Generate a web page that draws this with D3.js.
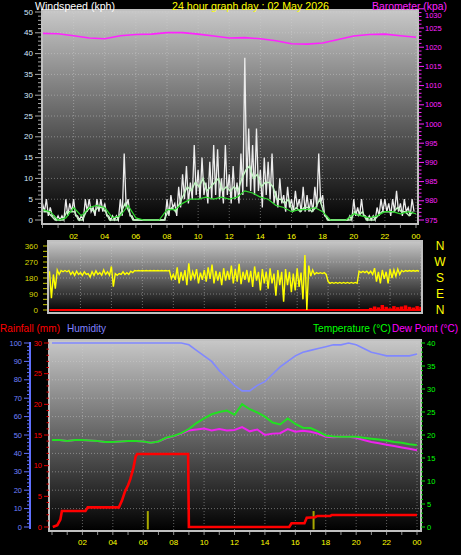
<!DOCTYPE html>
<html><head><meta charset="utf-8">
<script src="https://cdn.jsdelivr.net/npm/d3@7"></script>
<style>body{margin:0;background:#000;}svg{display:block;}</style>
</head><body>
<svg id="c" width="461" height="555"></svg>
<script>
// ---------- data ----------
const xTickHours = [2,4,6,8,10,12,14,16,18,20,22,24];
const xTickLabels = ["02","04","06","08","10","12","14","16","18","20","22","00"];
const windTicks = [0,5,10,15,20,25,30,35,40,45,50];
const baroTicks = [975,980,985,990,995,1000,1005,1010,1015,1020,1025,1030];
const dirTicks = [0,90,180,270,360];
const compassLabels = ["N","W","S","E","N"];
const compassDeg = [360,270,180,90,0];
const humTicks = [0,10,20,30,40,50,60,70,80,90,100];
const rainTicks = [0,5,10,15,20,25,30];
const tempTicks = [0,5,10,15,20,25,30,35,40];

// wind, 15-minute intervals (kph): highest and lowest gust read in each
const gustHigh = [4,5,3,1, 1,1,5,4, 5,1,1,5, 5,3,5,5, 4,1,1,1, 5,16,5,1, 0,0,0,0, 0,0,0,0,
  5,6,4,8, 11,13,9,18, 12,15,9,14, 18,17,10,18, 11,13,9,16, 39,22,18,22, 12,15,14,16, 7,10,6,8,
  5,7,5,8, 6,5,8,16, 6,1,0,0, 0,0,0,1, 5,3,5,1, 1,1,3,5, 5,4,5,7, 4,5,3,5];
const gustLow = [2,1,1,0, 0,0,1,2, 1,0,0,2, 2,1,2,2, 1,0,0,0, 1,3,1,0, 0,0,0,0, 0,0,0,0,
  1,3,1,3, 5,4,5,6, 5,6,4,5, 6,5,4,6, 4,5,4,6, 8,7,6,7, 3,6,5,4, 3,4,2,3,
  2,3,2,2, 2,2,3,4, 1,0,0,0, 0,0,0,0, 1,1,1,0, 0,0,1,2, 2,1,2,2, 1,2,1,2];
const windAvg = [2,2,1,0, 0,0,2,2, 2,0,0,2, 3,2,3,3, 2,0,0,0, 2,4,2,0, 0,0,0,0, 0,0,0,0,
  2,3,2,4, 6,8,7,9, 8,10,7,8, 9,10,7,8, 7,8,7,10, 12,13,10,11, 8,9,9,8, 5,5,4,5,
  2,3,2,3, 3,2,3,5, 2,0,0,0, 0,0,0,0, 2,1,2,0, 0,0,1,2, 2,2,2,3, 2,2,1,2];
// half-hourly mean wind (kph)
const windMean = [2.5,2,0,0.5,3,1,3,3.5,3,0.5,1,3.5,0.5,0,0,0,2.5,2.5,4,5,5,5.5,5,5.5,5,5.5,7,6.5,
  5.5,5,3.5,3,2,2.5,2.5,3,2,0,0,0,1.5,1,0.5,1,2,2,1.5,2,1.5];
// hourly barometer (hPa)
const baro = [1023.6,1023.5,1023.0,1022.4,1022.2,1023.0,1023.3,1023.4,1023.8,1023.8,1023.4,1022.9,
  1022.4,1022.5,1022.2,1021.7,1020.9,1020.8,1021.1,1022.0,1022.9,1023.3,1023.4,1023.0,1022.6];
// wind direction, 15-minute (degrees): highest and lowest read in each
const dirHigh = [218,200,225,222, 222,222,215,218, 210,215,205,215, 220,210,225,215, 245,205,205,215,
  210,218,222,222, 222,222,222,222, 222,222,222,222, 200,240,215,225, 262,215,230,210,
  225,240,255,220, 215,235,220,250, 230,260,215,225, 220,245,215,230, 215,235,205,225,
  215,230,215,205, 235,210,309,250, 225,210,210,210, 160,155,155,155, 155,155,155,155,
  218,218,218,218, 235,215,225,215, 230,225,230,222, 222,222,222,222];
const dirLow = [67,120,200,215, 215,200,195,200, 195,200,185,195, 200,195,200,195, 131,195,200,200,
  200,210,220,220, 220,220,220,220, 220,220,220,175, 170,150,165,140, 165,180,150,170,
  160,175,150,165, 140,165,170,150, 160,145,170,155, 130,165,110,150, 120,150,80,140,
  47,140,100,110, 130,60,0,190, 200,205,205,200, 150,150,150,150, 150,150,150,150,
  210,210,205,200, 160,150,175,150, 180,190,200,215, 218,218,218,218];
const redTraceStart = 20.75;
const redTrace = [12,20,15,28,18,10,22,16,20,26,18,14,22,18];
// half-hourly humidity (%), temperature and dew point (°C)
const humidity = [100,100,100,100,100,100,100,100,100,100,100,100,100,100,100,100,100,100,
  99,96,93,90,85,81,77,74,74,77,79,83,87,90,93,95,96,97,98,99,99,100,99,97,95,94,93,93,93,93,94];
const temperature = [18.9,18.9,18.7,18.9,18.9,18.8,18.7,18.5,18.5,18.6,18.7,18.7,18.6,18.3,18.6,19.4,
  19.8,20.4,21.3,22.6,23.6,24.5,25.0,25.3,24.4,26.7,25.6,24.9,24.0,22.7,22.3,23.6,22.4,21.6,21.5,20.8,
  19.9,19.7,19.6,19.6,19.6,19.4,19.2,19.0,18.8,18.5,18.3,18.0,17.8];
const dewPoint = [18.9,18.9,18.7,18.9,18.9,18.8,18.7,18.5,18.5,18.6,18.7,18.7,18.6,18.3,18.6,19.3,
  19.7,20.3,21.0,21.2,21.4,21.0,21.3,21.0,21.1,21.7,20.8,21.2,20.0,20.3,20.4,21.3,20.7,20.9,20.7,20.3,
  19.6,19.5,19.6,19.6,19.4,18.9,18.5,18.2,17.9,17.6,17.3,17.0,16.7];
// rainfall total (mm) at read times (hours)
const rainHours = [0.05,0.35,0.55,0.65,2.2,2.35,4.4,4.6,4.8,5.0,5.15,5.35,5.5,5.6,8.95,9.0,15.6,15.75,16.6,16.75,17.3,17.45,18.3,18.4,24];
const rainMm    = [0,0.3,1.2,2.6,2.6,3.2,3.2,4.3,5.8,6.8,7.8,9.6,11.5,11.9,11.9,0,0,0.6,0.6,1.5,1.6,1.8,1.8,1.96,1.96];
const rainRateHours = [6.3,17.2];
const rainRateMm = [2.6,2.6];

// ---------- drawing ----------
const svg = d3.select("#c");
svg.append("rect").attr("width",461).attr("height",555).attr("fill","#000");
const defs = svg.append("defs");
const g = defs.append("linearGradient").attr("id","bg").attr("x1",0).attr("y1",0).attr("x2",0).attr("y2",1);
g.append("stop").attr("offset","0%").attr("stop-color","#c8c8c8");
g.append("stop").attr("offset","100%").attr("stop-color","#000000");

const FONT = "Liberation Sans, Arial, sans-serif";

function panel(x0,x1,y0,y1){
  svg.append("rect").attr("x",x0).attr("y",y0).attr("width",x1-x0).attr("height",y1-y0)
    .attr("fill","url(#bg)");
}
function frame(x0,x1,y0,y1){
  svg.append("rect").attr("x",x0).attr("y",y0).attr("width",x1-x0).attr("height",y1-y0)
    .attr("fill","none").attr("stroke","#c0c0c0").attr("stroke-width",2);
}
function grid(xs, ys, xVals, yVals, x0, x1, y0, y1){
  const gg = svg.append("g").attr("stroke","#d0d0d0").attr("stroke-opacity",0.45)
    .attr("stroke-dasharray","1,2").attr("stroke-width",1);
  xVals.forEach(v=>gg.append("line").attr("x1",xs(v)).attr("x2",xs(v)).attr("y1",y0).attr("y2",y1));
  yVals.forEach(v=>gg.append("line").attr("x1",x0).attr("x2",x1).attr("y1",ys(v)).attr("y2",ys(v)));
}
function hourTicksBelow(xs, y){
  const gg = svg.append("g").attr("stroke","#909090").attr("stroke-width",1);
  d3.range(0,25).forEach(h=>gg.append("line").attr("x1",xs(h)).attr("x2",xs(h)).attr("y1",y).attr("y2",y+3));
}
function text(x,y,s,color,size,anchor,len){
  const t = svg.append("text").attr("x",x).attr("y",y).text(s).attr("fill",color)
    .attr("font-family",FONT).attr("font-size",size).attr("text-anchor",anchor||"start");
  if(len){ t.attr("textLength",len).attr("lengthAdjust","spacingAndGlyphs"); }
  return t;
}
function zigzag(hi, lo, step){
  const pts = [];
  hi.forEach((v,i)=>{ pts.push([i*step, v]); pts.push([i*step+step/2, lo[i]]); });
  return pts;
}

// ===== top panel: wind speed & barometer =====
const xT = d3.scaleLinear([0,24],[42.5,416]);
const yW = d3.scaleLinear([0,50],[220,12]);
const yB = d3.scaleLinear([975,1030],[220,8.8]);
panel(42,418,10,224);
grid(xT, yW, xTickHours, windTicks.slice(1), 42, 418, 10, 224);

svg.append("path").attr("d", d3.line().x(d=>xT(d[0])).y(d=>yW(d[1]))(zigzag(gustHigh,gustLow,0.25)))
  .attr("fill","none").attr("stroke","#ececec").attr("stroke-width",1.3);
svg.append("path").attr("d", d3.line().x((d,i)=>xT(i*0.25+0.06)).y(d=>yW(d))(windAvg))
  .attr("fill","none").attr("stroke","#c0f4c0").attr("stroke-width",1.4);
svg.append("path").attr("d", d3.line().x((d,i)=>xT(i*0.5)).y(d=>yW(d))(windMean))
  .attr("fill","none").attr("stroke","#2ed82e").attr("stroke-width",1.2);
svg.append("path").attr("d", d3.line().x((d,i)=>xT(i)).y(d=>yB(d))(baro))
  .attr("fill","none").attr("stroke","#ff22ff").attr("stroke-width",1.6);
frame(42,418,10,224);
hourTicksBelow(xT,225);

// left wind axis
const wl = svg.append("g").attr("stroke","#a8a8a8");
d3.range(0,51).forEach(v=>wl.append("line").attr("x1", v%5===0?35:38).attr("x2",41).attr("y1",yW(v)).attr("y2",yW(v)));
windTicks.forEach(v=>text(33,yW(v),v,"#d4e8ff","8px","end").attr("dominant-baseline","central"));
// right barometer axis
const bl = svg.append("g").attr("stroke","#ff22ff");
d3.range(975,1031).forEach(v=>bl.append("line").attr("x1",419).attr("x2", v%5===0?424:421.5).attr("y1",yB(v)).attr("y2",yB(v)));
baroTicks.forEach(v=>text(425,yB(v)+(v===1030?6.5:0),v,"#ff22ff","7.5px","start").attr("dominant-baseline","central"));
// x labels
xTickHours.forEach((h,i)=>text(xT(h),239,xTickLabels[i],"#ffff00","8px","middle"));

// headers
text(35,9.5,"Windspeed (kph)","#ffffff","10.5px","start",80);
text(172,9.5,"24 hour graph day : 02 May 2026","#ffff00","10.5px","start",157);
text(372,9.5,"Barometer (kpa)","#ff22ff","10.5px","start",75);

// ===== middle panel: wind direction =====
const xM = d3.scaleLinear([0,24],[49.5,421]);
const yD = d3.scaleLinear([0,360],[310,246]);
panel(48,422,241,313);
grid(xM, yD, xTickHours, [90,180,270], 48, 422, 241, 313);
svg.append("line").attr("x1",xM(0)).attr("x2",xM(24)).attr("y1",yD(0)).attr("y2",yD(0))
  .attr("stroke","#ff0000").attr("stroke-width",2);
svg.append("g").selectAll("line").data(redTrace).join("line")
  .attr("x1",(d,i)=>xM(redTraceStart+i*0.25)).attr("x2",(d,i)=>xM(redTraceStart+i*0.25))
  .attr("y1",yD(0)).attr("y2",d=>yD(d)).attr("stroke","#ff0000").attr("stroke-width",3.5);
svg.append("path").attr("d", d3.line().x(d=>xM(d[0])).y(d=>yD(d[1]))(zigzag(dirHigh,dirLow,0.25)))
  .attr("fill","none").attr("stroke","#ffff00").attr("stroke-width",1.4);
frame(48,422,241,313);
const dl = svg.append("g").attr("stroke","#c8c800");
d3.range(0,361,30).forEach(v=>dl.append("line").attr("x1",43).attr("x2",47).attr("y1",yD(v)).attr("y2",yD(v)));
dirTicks.forEach(v=>text(38,yD(v),v,"#d8d800","8px","end").attr("dominant-baseline","central"));
compassLabels.forEach((s,i)=>text(440,yD(compassDeg[i]),s,"#ffff00","12px","middle").attr("dominant-baseline","central"));

// ===== bottom panel: rain, humidity, temperature, dew point =====
const xB = d3.scaleLinear([0,24],[52,417]);
const yH = d3.scaleLinear([0,100],[527,343]);
const yR = d3.scaleLinear([0,30],[527,343]);
const yC = d3.scaleLinear([0,40],[527,343]);
panel(49,421,340,531);
grid(xB, yH, xTickHours, d3.range(10,100,10), 49, 421, 340, 531);
const half = (d,i)=>xB(i*0.5);
svg.append("path").attr("d", d3.line().x(half).y(d=>yH(d))(humidity))
  .attr("fill","none").attr("stroke","#8088ff").attr("stroke-width",1.6);
svg.append("path").attr("d", d3.line().x(half).y(d=>yC(d))(dewPoint))
  .attr("fill","none").attr("stroke","#ee22ee").attr("stroke-width",2);
svg.append("path").attr("d", d3.line().x(half).y(d=>yC(d))(temperature))
  .attr("fill","none").attr("stroke","#22e022").attr("stroke-width",2);
svg.append("g").selectAll("line").data(rainRateMm).join("line")
  .attr("x1",(d,i)=>xB(rainRateHours[i])).attr("x2",(d,i)=>xB(rainRateHours[i]))
  .attr("y1",yR(-0.4)).attr("y2",d=>yR(d)).attr("stroke","#a8a800").attr("stroke-width",2);
svg.append("path").attr("d", d3.line().x((d,i)=>xB(rainHours[i])).y(d=>yR(d))(rainMm))
  .attr("fill","none").attr("stroke","#ff0000").attr("stroke-width",2.6);
frame(49,421,340,531);
hourTicksBelow(xB,532);

// humidity axis (left, blue)
svg.append("line").attr("x1",30).attr("x2",30).attr("y1",yH(100)-1).attr("y2",yH(0)+2)
  .attr("stroke","#6070ff").attr("stroke-width",2);
const hl = svg.append("g").attr("stroke","#6070ff");
d3.range(0,101,2).forEach(v=>hl.append("line").attr("x1", v%10===0?24:27).attr("x2",30).attr("y1",yH(v)).attr("y2",yH(v)));
humTicks.forEach(v=>text(22,yH(v),v,"#7080ff","7.5px","end").attr("dominant-baseline","central"));
// rain axis (red)
const rl = svg.append("g").attr("stroke","#e00000");
d3.range(0,31).forEach(v=>rl.append("line").attr("x1", v%5===0?44:46.5).attr("x2",49).attr("y1",yR(v)).attr("y2",yR(v)));
rainTicks.forEach(v=>text(42,yR(v),v,"#ff0000","7.5px","end").attr("dominant-baseline","central"));
// temperature axis (right, green)
const tl = svg.append("g").attr("stroke","#00e000");
d3.range(0,41).forEach(v=>tl.append("line").attr("x1",421).attr("x2", v%5===0?425:423).attr("y1",yC(v)).attr("y2",yC(v)));
tempTicks.forEach(v=>text(427,yC(v),v,"#00ff00","7.5px","start").attr("dominant-baseline","central"));
xTickHours.forEach((h,i)=>text(xB(h),545,xTickLabels[i],"#ffff00","8px","middle"));

// bottom headers
text(0,332,"Rainfall (mm)","#ff0000","10.5px","start",60);
text(67,332,"Humidity","#8080ff","10.5px","start",39);
text(313,332,"Temperature (°C)","#00ff00","10px","start",78);
text(392,332,"Dew Point (°C)","#ff00ff","10px","start",66);
</script>
</body></html>
